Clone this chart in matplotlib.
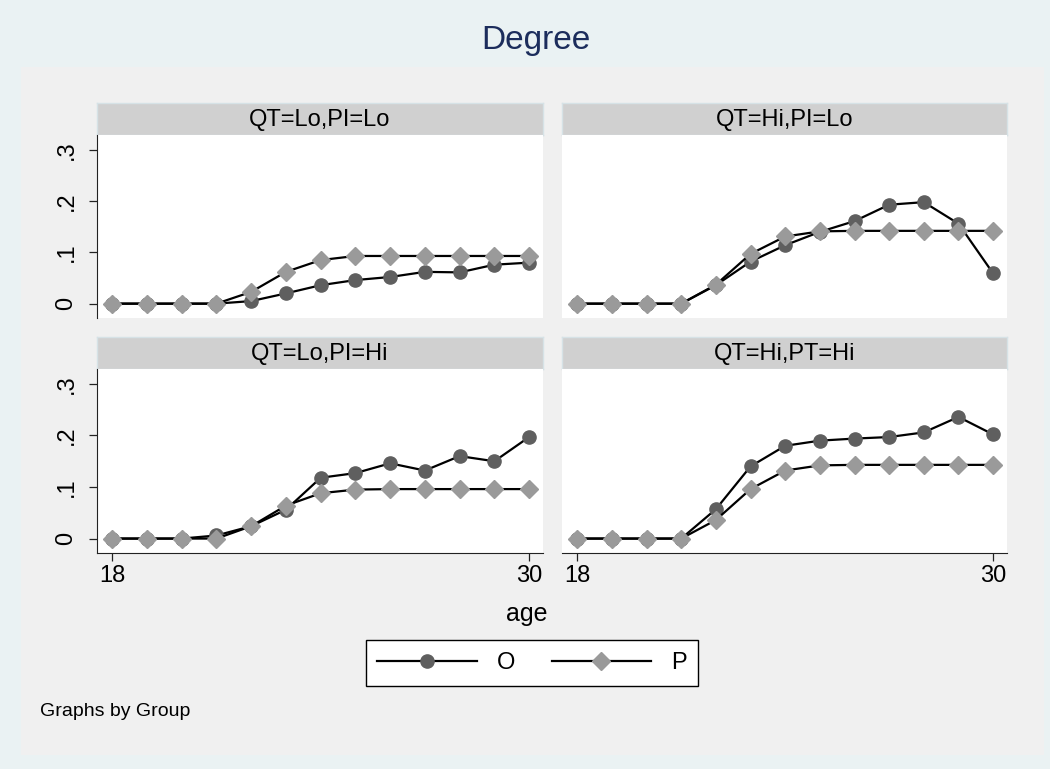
import matplotlib
matplotlib.use('Agg')
import matplotlib.pyplot as plt
from matplotlib.patches import Rectangle
from matplotlib.lines import Line2D

plt.rcParams['font.family'] = ['Liberation Sans', 'DejaVu Sans']

# ---------------- data ----------------
age = [18, 19, 20, 21, 22, 23, 24, 25, 26, 27, 28, 29, 30]

panel_titles = ["QT=Lo,PI=Lo", "QT=Hi,PI=Lo", "QT=Lo,PI=Hi", "QT=Hi,PT=Hi"]

o_lolo = [0, 0, 0, 0, 0.005, 0.020, 0.036, 0.046, 0.052, 0.062, 0.061, 0.076, 0.080]
p_lolo = [0, 0, 0, 0, 0.023, 0.062, 0.085, 0.093, 0.093, 0.093, 0.093, 0.093, 0.093]

o_hilo = [0, 0, 0, 0, 0.036, 0.082, 0.114, 0.140, 0.161, 0.193, 0.198, 0.156, 0.059]
p_hilo = [0, 0, 0, 0, 0.037, 0.097, 0.131, 0.141, 0.142, 0.142, 0.142, 0.142, 0.142]

o_lohi = [0, 0, 0, 0.006, 0.024, 0.056, 0.118, 0.127, 0.146, 0.132, 0.160, 0.150, 0.197]
p_lohi = [0, 0, 0, 0, 0.024, 0.064, 0.088, 0.095, 0.096, 0.096, 0.096, 0.096, 0.096]

o_hihi = [0, 0, 0, 0, 0.057, 0.140, 0.180, 0.190, 0.194, 0.197, 0.206, 0.236, 0.202]
p_hihi = [0, 0, 0, 0, 0.036, 0.096, 0.132, 0.142, 0.143, 0.143, 0.143, 0.143, 0.143]

o_series = [o_lolo, o_hilo, o_lohi, o_hihi]
p_series = [p_lolo, p_hilo, p_lohi, p_hihi]

yticks = [0, 0.1, 0.2, 0.3]
ytick_labels = ["0", ".1", ".2", ".3"]
xticks = [18, 30]

# ---------------- figure ----------------
W, H = 1050, 769
fig = plt.figure(figsize=(W / 100, H / 100), dpi=100)
fig.patch.set_facecolor('#eaf2f3')


def box(x0, y0, x1, y1):
    # pixel box (top-left origin) -> figure fraction
    return [x0 / W, 1 - y1 / H, (x1 - x0) / W, (y1 - y0) / H]


# inner graph region
fig.patches.append(Rectangle((21 / W, 1 - 755 / H), (1044 - 21) / W, (755 - 67) / H,
                             transform=fig.transFigure, facecolor='#f0f0f0',
                             edgecolor='none', zorder=-10))

fig.text(536 / W, 1 - 40 / H, "Degree", ha='center', va='center',
         fontsize=24, color='#1c2d5c')

cols = [(97, 543), (562, 1007)]
rows = [(103, 135, 318), (337, 369, 553)]

O_COLOR = '#5f5f5f'
P_COLOR = '#9a9a9a'
LW = 1.6

for i in range(4):
    r, c = divmod(i, 2)
    x0, x1 = cols[c]
    h0, p0, p1 = rows[r]

    # header strip
    hax = fig.add_axes(box(x0, h0, x1, p0))
    hax.set_facecolor('#d0d0d0')
    for s in hax.spines.values():
        s.set_color('#d6e2e6')
        s.set_linewidth(1.0)
    hax.set_xticks([])
    hax.set_yticks([])
    hax.text(0.5, 0.48, panel_titles[i], ha='center', va='center',
             fontsize=17, color='black', transform=hax.transAxes)

    ax = fig.add_axes(box(x0, p0, x1, p1))
    ax.set_facecolor('white')
    ax.plot(age, o_series[i], color='black', lw=LW, marker='o', ms=9.5,
            mfc=O_COLOR, mec=O_COLOR, zorder=3)
    ax.plot(age, p_series[i], color='black', lw=LW, marker='D', ms=9,
            mfc=P_COLOR, mec=P_COLOR, zorder=4)
    ax.set_xlim(17.56, 30.4)
    ax.set_ylim(-0.028, 0.329)

    for s in ['top', 'right']:
        ax.spines[s].set_visible(False)
    ax.spines['left'].set_visible(c == 0)
    ax.spines['bottom'].set_visible(r == 1)
    ax.spines['left'].set_color('#222222')
    ax.spines['bottom'].set_color('#222222')

    if c == 0:
        ax.set_yticks(yticks)
        ax.set_yticklabels(ytick_labels, rotation=90, va='center')
        ax.tick_params(axis='y', length=6, width=0.9, color='#222222',
                       labelsize=17, pad=8)
    else:
        ax.set_yticks([])
    if r == 1:
        ax.set_xticks(xticks)
        ax.set_xticklabels([str(v) for v in xticks])
        ax.tick_params(axis='x', length=6, width=0.9, color='#222222',
                       labelsize=17, pad=3)
    else:
        ax.set_xticks([])

fig.text(527 / W, 1 - 614 / H, "age", ha='center', va='center', fontsize=18)

handles = [
    Line2D([], [], color='black', lw=LW, marker='o', ms=9.5, mfc=O_COLOR, mec=O_COLOR),
    Line2D([], [], color='black', lw=LW, marker='D', ms=9, mfc=P_COLOR, mec=P_COLOR),
]
leg = fig.legend(handles, ["O", "P"], ncol=2, loc='center',
                 bbox_to_anchor=(532 / W, 1 - 663 / H), fontsize=17,
                 handlelength=4.2, handletextpad=0.85, columnspacing=1.55,
                 frameon=True, fancybox=False, borderpad=0.5, framealpha=1)
leg.get_frame().set_edgecolor('black')
leg.get_frame().set_linewidth(1.0)
leg.get_frame().set_facecolor('white')

fig.text(40 / W, 1 - 712 / H, "Graphs by Group", ha='left', va='center', fontsize=14)

fig.savefig('out.png', dpi=100, facecolor=fig.get_facecolor())
